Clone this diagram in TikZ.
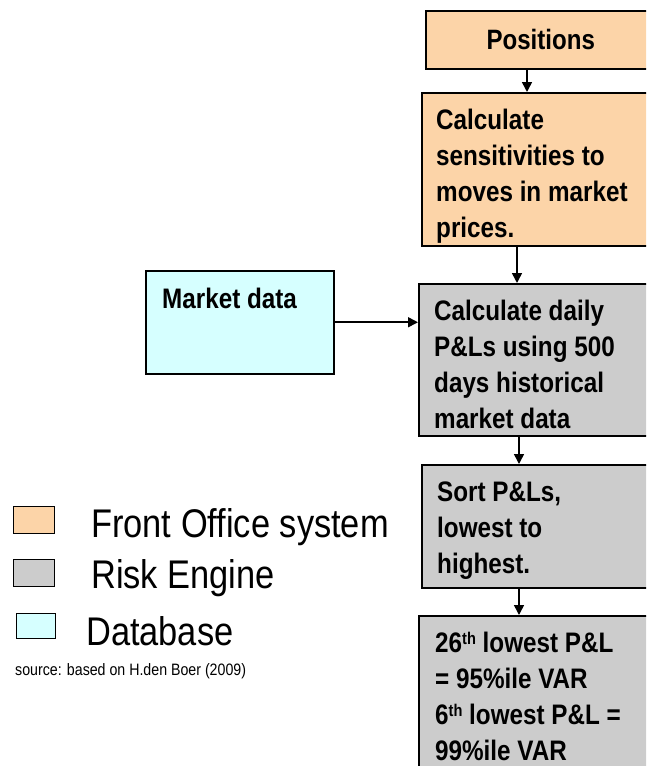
\documentclass[tikz,border=0pt]{standalone}
\usepackage{fontspec}
\newfontfamily\arialn[FakeStretch=0.86]{Liberation Sans}
\usetikzlibrary{arrows.meta}
\definecolor{fopeach}{RGB}{252, 212, 168}
\definecolor{riskgrey}{RGB}{204, 204, 204}
\definecolor{dbcyan}{RGB}{214, 255, 255}
\newcommand{\topstrut}{\rule{0pt}{21pt}}
\newcommand{\thsup}{\raisebox{8pt}{\fontsize{17}{17}\selectfont th}}

\tikzset{
  stepbox/.style={draw, line width=1.5pt, rectangle, inner sep=0pt, minimum width=236, anchor=north west},
  boxtext/.style={font={\arialn\bfseries\fontsize{28.2}{36}\selectfont}, align=left, anchor=north west, inner sep=0pt},
  flow/.style={line width=1.6pt, -{Triangle[width=10pt,length=10pt]}},
  legendbox/.style={draw, line width=1.4pt, minimum width=41, minimum height=27, inner sep=0pt, anchor=north west},
  legendtext/.style={font={\arialn\fontsize{40}{40}\selectfont}, anchor=base west, inner sep=0pt}
}

\begin{document}
\begin{tikzpicture}[x=1pt, y=1pt]
  \useasboundingbox (0,0) rectangle (646,-766);
  \clip (0,0) rectangle (646,-766);

  % Front office steps
  \node[stepbox, fill=fopeach, minimum width=230, minimum height=58,
    font={\arialn\bfseries\fontsize{28}{33}\selectfont}] (pos) at (425,-10) {Positions};
  \node[stepbox, fill=fopeach, minimum height=153] (sens) at (421,-92) {};
  \node[boxtext] (senstext) at ([shift={(15,-16)}]sens.north west)
    {\topstrut Calculate\\sensitivities to\\moves in market\\prices.};

  % Risk engine steps
  \node[stepbox, fill=riskgrey, minimum height=152] (daily) at (418,-283) {};
  \node[boxtext] (dailytext) at ([shift={(16,-16)}]daily.north west)
    {\topstrut Calculate daily\\P\&Ls using 500\\days historical\\market data};
  \node[stepbox, fill=riskgrey, minimum height=123] (sort) at (421,-464) {};
  \node[boxtext] (sorttext) at ([shift={(16,-16)}]sort.north west)
    {\topstrut Sort P\&Ls,\\lowest to\\highest.};
  \node[stepbox, fill=riskgrey, minimum height=170] (var) at (418,-615) {};
  \node[boxtext] (vartext) at ([shift={(17,-16)}]var.north west)
    {\topstrut 26\thsup{} lowest P\&L\\= 95\%ile VAR\\6\thsup{} lowest P\&L =\\99\%ile VAR};

  % Database
  \node[stepbox, fill=dbcyan, minimum width=188, minimum height=103] (mkt) at (145,-270) {};
  \node[boxtext] (mkttext) at ([shift={(17,-17)}]mkt.north west) {\topstrut Market data};

  % Connectors
  \draw[flow] ([xshift=102]pos.south west) -- ([xshift=102]pos.south west |- sens.north);
  \draw[flow] ([xshift=96]sens.south west) -- ([xshift=96]sens.south west |- daily.north);
  \draw[flow] ([xshift=101]daily.south west) -- ([xshift=101]daily.south west |- sort.north);
  \draw[flow] ([xshift=98]sort.south west) -- ([xshift=98]sort.south west |- var.north);
  \draw[flow] (mkt.east) -- (mkt.east -| daily.west);

  % Legend
  \node[legendbox, fill=fopeach] (lfo) at (13,-506) {};
  \node[legendtext] (lfotext) at (91,-537) {Front Office system};
  \node[legendbox, fill=riskgrey] (lrisk) at (13,-559) {};
  \node[legendtext] (lrisktext) at (91,-588) {Risk Engine};
  \node[legendbox, fill=dbcyan, minimum width=39, minimum height=25] (ldb) at (16,-613) {};
  \node[legendtext] (ldbtext) at (86,-645) {Database};
  \node[font={\arialn\fontsize{16.5}{16.5}\selectfont}, anchor=base west, inner sep=0pt] (src)
    at (15,-675) {source: based on H.den Boer (2009)};
\end{tikzpicture}
\end{document}
